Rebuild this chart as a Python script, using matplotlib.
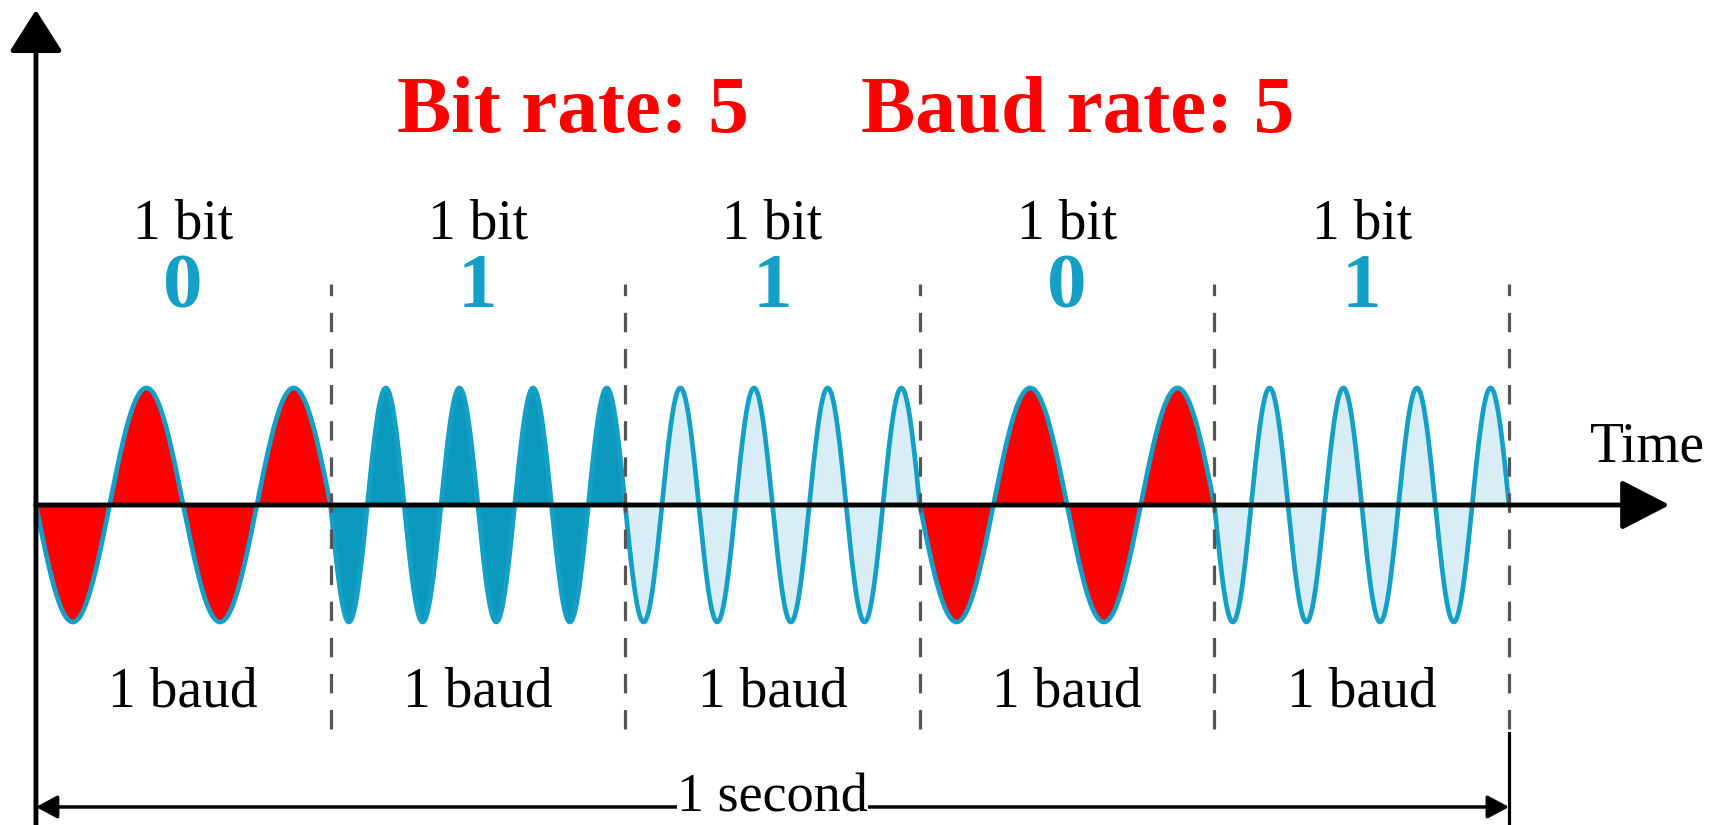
import numpy as np
import matplotlib
matplotlib.use("Agg")
import matplotlib.pyplot as plt

# -------------------------------
# Data: one bit per baud, 5 bauds in 1 second
# -------------------------------
bits = [0, 1, 1, 0, 1]
carrier_cycles = [2, 4, 4, 2, 4]          # cycles of the carrier in each baud
segment_fill = ["#ff0000", "#0a98bc", "#d8edf5", "#ff0000", "#d8edf5"]
bit_label = "1 bit"
baud_label = "1 baud"
title_left = "Bit rate: 5"
title_right = "Baud rate: 5"
total_time = 1.0

outline_color = "#14a0c6"
digit_color = "#14a0c6"
dash_color = "#555555"

plt.rcParams["font.family"] = ["Liberation Serif", "DejaVu Serif"]
plt.rcParams["lines.scale_dashes"] = False

fig = plt.figure(figsize=(17.31, 8.25), dpi=100)
ax = fig.add_axes([0, 0, 1, 1])
ax.set_xlim(-0.0244, 1.1507)
ax.set_ylim(-2.735, 4.316)
ax.axis("off")

n = len(bits)
seg = total_time / n

# -------------------------------
# Waveform segments
# -------------------------------
for i, (b, cyc, fc) in enumerate(zip(bits, carrier_cycles, segment_fill)):
    t0 = i * seg
    t = np.linspace(t0, t0 + seg, 400)
    y = -np.sin(2 * np.pi * cyc * (t - t0) / seg)
    ax.fill_between(t, 0, y, color=fc, lw=0, zorder=2)
    ax.plot(t, y, color=outline_color, lw=3.4, zorder=3, solid_capstyle="round")

    xc = t0 + seg / 2
    ax.text(xc, 2.274, bit_label, ha="center", va="baseline", fontsize=40, color="black")
    ax.text(xc, 1.69, str(b), ha="center", va="baseline", fontsize=57,
            fontweight="bold", color=digit_color)
    ax.text(xc, -1.726, baud_label, ha="center", va="baseline", fontsize=40, color="black")

# dashed baud boundaries
for i in range(1, n + 1):
    ax.plot([i * seg, i * seg], [-1.915, 1.889], color=dash_color, lw=2.3,
            dashes=(14, 12), zorder=4)
# solid end marker below last boundary
ax.plot([total_time, total_time], [-2.735, -1.95], color="black", lw=2.3, zorder=4)

# -------------------------------
# Axes arrows
# -------------------------------
ax.annotate("", xy=(0, 4.231), xytext=(0, -2.735),
            arrowprops=dict(arrowstyle="-|>,head_length=26,head_width=16.5",
                            mutation_scale=1, lw=3.5, color="black",
                            shrinkA=0, shrinkB=0), zorder=5)
ax.annotate("", xy=(1.109, 0), xytext=(0, 0),
            arrowprops=dict(arrowstyle="-|>,head_length=30,head_width=15.5",
                            mutation_scale=1, lw=3.5, color="black",
                            shrinkA=0, shrinkB=0), zorder=5)
ax.text(1.055, 0.368, "Time", ha="left", va="baseline", fontsize=40)

# 1 second span
ax.annotate("", xy=(total_time, -2.581), xytext=(0, -2.581),
            arrowprops=dict(arrowstyle="<|-|>,head_length=13,head_width=7",
                            mutation_scale=1, lw=2.5, color="black",
                            shrinkA=0, shrinkB=0), zorder=5)
ax.text(total_time / 2, -2.62, "1 second", ha="center", va="baseline", fontsize=39,
        bbox=dict(facecolor="white", edgecolor="none", pad=0), zorder=6)

# -------------------------------
# Title
# -------------------------------
ax.text(0.3646, 3.188, title_left, ha="center", va="baseline", fontsize=58.5,
        fontweight="bold", color="#ff0000")
ax.text(0.7074, 3.188, title_right, ha="center", va="baseline", fontsize=58.5,
        fontweight="bold", color="#ff0000")

fig.savefig("out.png", dpi=100, facecolor="white")
